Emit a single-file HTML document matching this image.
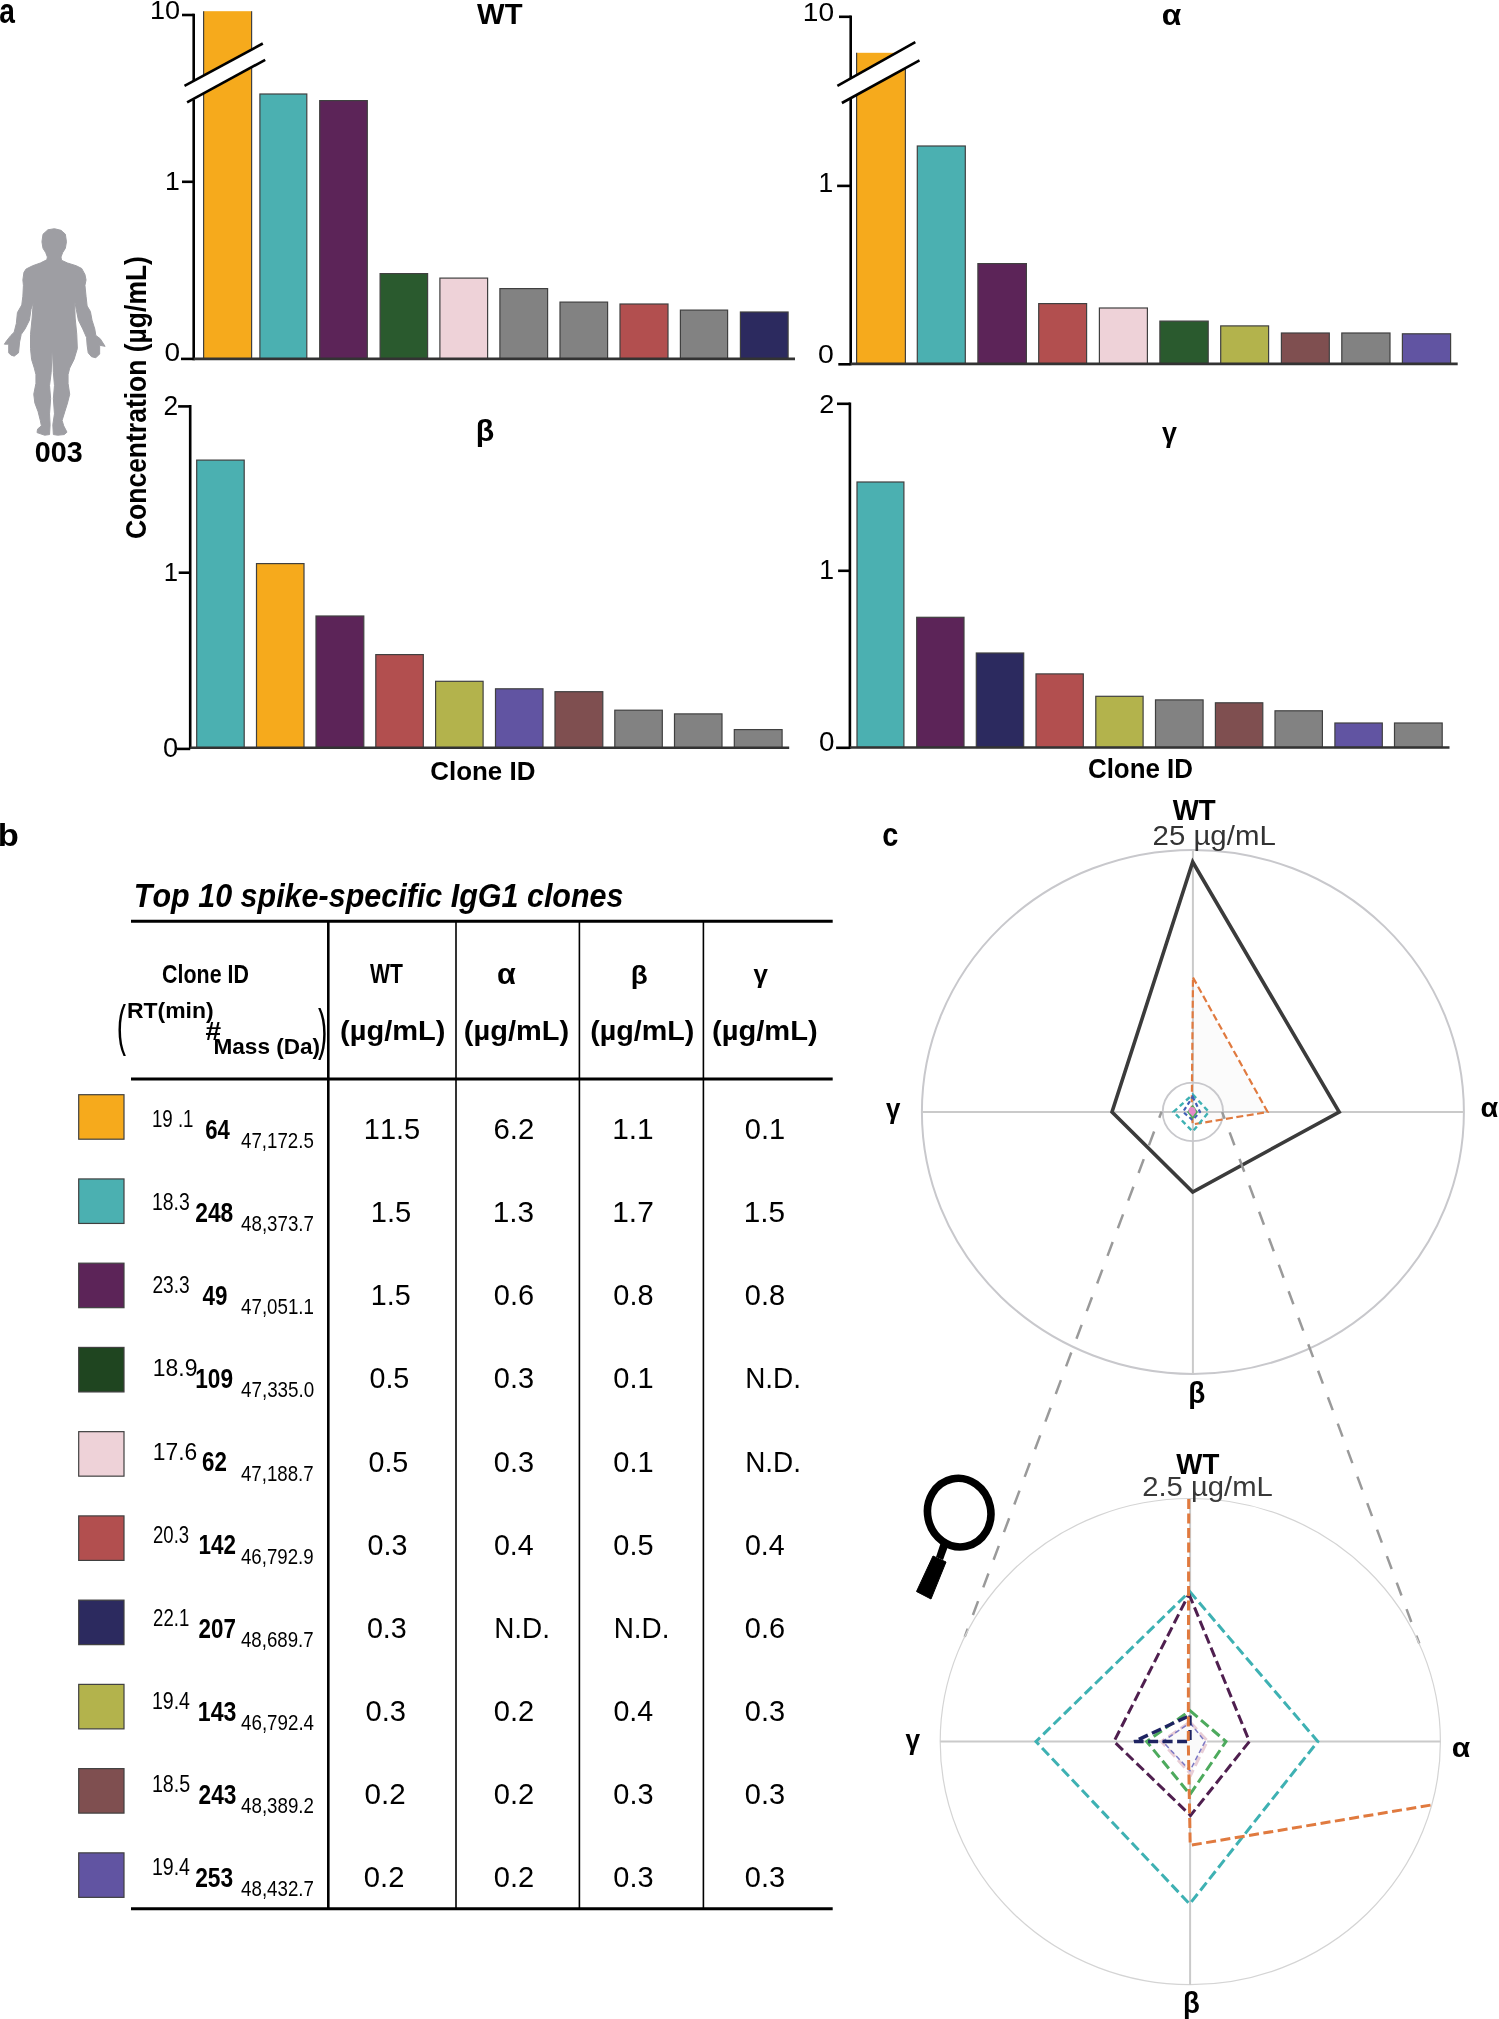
<!DOCTYPE html>
<html><head><meta charset="utf-8"><style>
html,body{margin:0;padding:0;background:#fff;}
svg{display:block;will-change:transform;}
text{font-family:"Liberation Sans",sans-serif;font-kerning:none;}
</style></head><body>
<svg width="1499" height="2019" viewBox="0 0 1499 2019">
<rect width="1499" height="2019" fill="#fff"/>
<text x="-0.82" y="22.60" font-size="34.38" textLength="15.65" lengthAdjust="spacingAndGlyphs" font-weight="bold" fill="#000">a</text>
<line x1="182.00" y1="15.00" x2="193.70" y2="15.00" stroke="#000" stroke-width="2.6"/>
<text x="149.94" y="19.00" font-size="26.50" textLength="30.12" lengthAdjust="spacingAndGlyphs" fill="#000">10</text>
<line x1="182.00" y1="181.80" x2="193.70" y2="181.80" stroke="#000" stroke-width="2.6"/>
<text x="164.97" y="189.80" font-size="26.45" textLength="14.83" lengthAdjust="spacingAndGlyphs" fill="#000">1</text>
<line x1="181.00" y1="358.90" x2="193.70" y2="358.90" stroke="#000" stroke-width="2.6"/>
<text x="164.51" y="361.30" font-size="26.50" textLength="15.59" lengthAdjust="spacingAndGlyphs" fill="#000">0</text>
<rect x="203.60" y="11.20" width="48.00" height="347.70" fill="#F6AA1C"/>
<line x1="203.60" y1="11.20" x2="203.60" y2="358.90" stroke="#404040" stroke-width="1.2"/>
<line x1="251.60" y1="11.20" x2="251.60" y2="358.90" stroke="#404040" stroke-width="1.2"/>
<rect x="259.90" y="94.00" width="46.90" height="264.90" fill="#4BB0B1" stroke="#404040" stroke-width="1.2"/>
<rect x="319.70" y="100.60" width="47.60" height="258.30" fill="#5C2458" stroke="#404040" stroke-width="1.2"/>
<rect x="380.10" y="273.60" width="47.50" height="85.30" fill="#2A5A2E" stroke="#404040" stroke-width="1.2"/>
<rect x="439.90" y="278.10" width="47.70" height="80.80" fill="#EED2D8" stroke="#404040" stroke-width="1.2"/>
<rect x="499.90" y="288.60" width="47.70" height="70.30" fill="#828282" stroke="#404040" stroke-width="1.2"/>
<rect x="560.00" y="302.10" width="47.60" height="56.80" fill="#828282" stroke="#404040" stroke-width="1.2"/>
<rect x="620.00" y="304.00" width="48.00" height="54.90" fill="#B24F4F" stroke="#404040" stroke-width="1.2"/>
<rect x="680.40" y="310.10" width="47.20" height="48.80" fill="#828282" stroke="#404040" stroke-width="1.2"/>
<rect x="740.40" y="312.00" width="47.70" height="46.90" fill="#2C2A5F" stroke="#404040" stroke-width="1.2"/>
<line x1="193.70" y1="13.70" x2="193.70" y2="80.90" stroke="#000" stroke-width="2.6"/>
<line x1="193.70" y1="99.50" x2="193.70" y2="360.20" stroke="#000" stroke-width="2.6"/>
<line x1="193.70" y1="358.90" x2="795.00" y2="358.90" stroke="#333" stroke-width="2.6"/>
<polygon points="184.5,85.9 262.8,43.5 265.2,59.8 187.1,102.4" fill="#fff"/>
<line x1="184.50" y1="85.90" x2="262.80" y2="43.50" stroke="#000" stroke-width="2.6"/>
<line x1="187.10" y1="102.40" x2="265.20" y2="59.80" stroke="#000" stroke-width="2.6"/>
<text x="477.07" y="24.20" font-size="28.92" textLength="45.44" lengthAdjust="spacingAndGlyphs" font-weight="bold" fill="#000">WT</text>
<line x1="839.00" y1="16.80" x2="850.70" y2="16.80" stroke="#000" stroke-width="2.6"/>
<text x="802.86" y="20.50" font-size="25.78" textLength="31.24" lengthAdjust="spacingAndGlyphs" fill="#000">10</text>
<line x1="837.10" y1="185.90" x2="850.70" y2="185.90" stroke="#000" stroke-width="2.6"/>
<text x="818.59" y="191.80" font-size="27.18" textLength="14.71" lengthAdjust="spacingAndGlyphs" fill="#000">1</text>
<line x1="838.30" y1="364.30" x2="850.70" y2="364.30" stroke="#000" stroke-width="2.6"/>
<text x="817.99" y="362.50" font-size="26.21" textLength="15.82" lengthAdjust="spacingAndGlyphs" fill="#000">0</text>
<rect x="856.60" y="52.80" width="48.80" height="311.10" fill="#F6AA1C"/>
<line x1="856.60" y1="52.80" x2="856.60" y2="363.90" stroke="#404040" stroke-width="1.2"/>
<line x1="905.40" y1="52.80" x2="905.40" y2="363.90" stroke="#404040" stroke-width="1.2"/>
<rect x="917.30" y="146.00" width="48.00" height="217.90" fill="#4BB0B1" stroke="#404040" stroke-width="1.2"/>
<rect x="977.90" y="263.60" width="48.50" height="100.30" fill="#5C2458" stroke="#404040" stroke-width="1.2"/>
<rect x="1038.70" y="303.60" width="47.90" height="60.30" fill="#B24F4F" stroke="#404040" stroke-width="1.2"/>
<rect x="1099.40" y="308.00" width="48.00" height="55.90" fill="#EED2D8" stroke="#404040" stroke-width="1.2"/>
<rect x="1159.90" y="321.10" width="48.30" height="42.80" fill="#2A5A2E" stroke="#404040" stroke-width="1.2"/>
<rect x="1220.70" y="325.90" width="47.90" height="38.00" fill="#B3B34C" stroke="#404040" stroke-width="1.2"/>
<rect x="1281.40" y="333.00" width="47.90" height="30.90" fill="#7F4F50" stroke="#404040" stroke-width="1.2"/>
<rect x="1341.80" y="333.00" width="48.20" height="30.90" fill="#828282" stroke="#404040" stroke-width="1.2"/>
<rect x="1402.40" y="333.80" width="48.20" height="30.10" fill="#6154A2" stroke="#404040" stroke-width="1.2"/>
<line x1="850.70" y1="15.50" x2="850.70" y2="78.40" stroke="#000" stroke-width="2.6"/>
<line x1="850.70" y1="98.20" x2="850.70" y2="365.20" stroke="#000" stroke-width="2.6"/>
<line x1="850.70" y1="363.90" x2="1457.70" y2="363.90" stroke="#333" stroke-width="2.6"/>
<polygon points="837.4,85.9 915.3,42.2 919.5,60.3 841.9,103" fill="#fff"/>
<line x1="837.40" y1="85.90" x2="915.30" y2="42.20" stroke="#000" stroke-width="2.6"/>
<line x1="841.90" y1="103.00" x2="919.50" y2="60.30" stroke="#000" stroke-width="2.6"/>
<text x="1161.76" y="24.80" font-size="28.81" textLength="19.57" lengthAdjust="spacingAndGlyphs" font-weight="bold" fill="#000">α</text>
<line x1="178.10" y1="406.40" x2="190.20" y2="406.40" stroke="#000" stroke-width="2.6"/>
<text x="163.58" y="414.90" font-size="26.78" textLength="14.65" lengthAdjust="spacingAndGlyphs" fill="#000">2</text>
<line x1="178.70" y1="572.70" x2="190.20" y2="572.70" stroke="#000" stroke-width="2.6"/>
<text x="163.84" y="581.10" font-size="26.45" textLength="14.32" lengthAdjust="spacingAndGlyphs" fill="#000">1</text>
<line x1="176.90" y1="748.90" x2="190.20" y2="748.90" stroke="#000" stroke-width="2.6"/>
<text x="163.14" y="757.00" font-size="26.78" textLength="15.12" lengthAdjust="spacingAndGlyphs" fill="#000">0</text>
<rect x="196.70" y="460.10" width="47.50" height="287.70" fill="#4BB0B1" stroke="#404040" stroke-width="1.2"/>
<rect x="256.50" y="563.60" width="47.50" height="184.20" fill="#F6AA1C" stroke="#404040" stroke-width="1.2"/>
<rect x="316.00" y="616.00" width="47.80" height="131.80" fill="#5C2458" stroke="#404040" stroke-width="1.2"/>
<rect x="375.80" y="654.60" width="47.50" height="93.20" fill="#B24F4F" stroke="#404040" stroke-width="1.2"/>
<rect x="435.60" y="681.30" width="47.50" height="66.50" fill="#B3B34C" stroke="#404040" stroke-width="1.2"/>
<rect x="495.50" y="688.80" width="47.50" height="59.00" fill="#6154A2" stroke="#404040" stroke-width="1.2"/>
<rect x="555.00" y="691.70" width="47.80" height="56.10" fill="#7F4F50" stroke="#404040" stroke-width="1.2"/>
<rect x="614.80" y="710.20" width="47.50" height="37.60" fill="#828282" stroke="#404040" stroke-width="1.2"/>
<rect x="674.50" y="713.90" width="47.50" height="33.90" fill="#828282" stroke="#404040" stroke-width="1.2"/>
<rect x="734.30" y="729.60" width="47.80" height="18.20" fill="#828282" stroke="#404040" stroke-width="1.2"/>
<line x1="190.20" y1="405.10" x2="190.20" y2="749.10" stroke="#000" stroke-width="2.6"/>
<line x1="190.20" y1="747.80" x2="789.20" y2="747.80" stroke="#333" stroke-width="2.6"/>
<text x="475.80" y="441.30" font-size="29.20" textLength="18.53" lengthAdjust="spacingAndGlyphs" font-weight="bold" fill="#000">β</text>
<text x="430.24" y="780.30" font-size="26.50" textLength="105.15" lengthAdjust="spacingAndGlyphs" font-weight="bold" fill="#000">Clone ID</text>
<line x1="837.00" y1="403.80" x2="849.90" y2="403.80" stroke="#000" stroke-width="2.6"/>
<text x="819.34" y="412.50" font-size="26.50" textLength="15.02" lengthAdjust="spacingAndGlyphs" fill="#000">2</text>
<line x1="838.10" y1="570.80" x2="849.90" y2="570.80" stroke="#000" stroke-width="2.6"/>
<text x="819.27" y="578.70" font-size="27.04" textLength="14.83" lengthAdjust="spacingAndGlyphs" fill="#000">1</text>
<line x1="836.10" y1="747.80" x2="849.90" y2="747.80" stroke="#000" stroke-width="2.6"/>
<text x="819.01" y="751.40" font-size="27.21" textLength="15.47" lengthAdjust="spacingAndGlyphs" fill="#000">0</text>
<rect x="857.00" y="482.00" width="46.90" height="265.50" fill="#4BB0B1" stroke="#404040" stroke-width="1.2"/>
<rect x="916.70" y="617.30" width="47.30" height="130.20" fill="#5C2458" stroke="#404040" stroke-width="1.2"/>
<rect x="976.30" y="653.00" width="47.40" height="94.50" fill="#2C2A5F" stroke="#404040" stroke-width="1.2"/>
<rect x="1036.00" y="673.90" width="47.30" height="73.60" fill="#B24F4F" stroke="#404040" stroke-width="1.2"/>
<rect x="1095.80" y="696.30" width="47.30" height="51.20" fill="#B3B34C" stroke="#404040" stroke-width="1.2"/>
<rect x="1155.50" y="699.90" width="47.60" height="47.60" fill="#828282" stroke="#404040" stroke-width="1.2"/>
<rect x="1215.40" y="702.80" width="47.40" height="44.70" fill="#7F4F50" stroke="#404040" stroke-width="1.2"/>
<rect x="1275.00" y="710.80" width="47.40" height="36.70" fill="#828282" stroke="#404040" stroke-width="1.2"/>
<rect x="1334.90" y="723.00" width="47.40" height="24.50" fill="#6154A2" stroke="#404040" stroke-width="1.2"/>
<rect x="1394.50" y="723.00" width="47.70" height="24.50" fill="#828282" stroke="#404040" stroke-width="1.2"/>
<line x1="849.90" y1="402.50" x2="849.90" y2="748.80" stroke="#000" stroke-width="2.6"/>
<line x1="849.90" y1="747.50" x2="1449.50" y2="747.50" stroke="#333" stroke-width="2.6"/>
<text x="1161.90" y="441.70" font-size="28.00" textLength="14.91" lengthAdjust="spacingAndGlyphs" font-weight="bold" fill="#000">γ</text>
<text x="1087.94" y="777.90" font-size="27.46" textLength="105.05" lengthAdjust="spacingAndGlyphs" font-weight="bold" fill="#000">Clone ID</text>
<text x="-1.09" y="0.00" font-size="29.00" textLength="283.01" lengthAdjust="spacingAndGlyphs" font-weight="bold" fill="#000" transform="translate(146,538) rotate(-90)">Concentration (µg/mL)</text>
<polygon points="54.46,228.71 60.99,230.35 65.35,234.16 66.44,241.78 65.35,248.32 62.62,252.67 60.99,257.03 61.53,260.30 67.52,263.02 76.24,265.74 81.68,268.47 84.95,274.46 86.04,279.90 84.95,285.35 86.04,296.24 87.13,306.04 90.40,311.49 92.03,320.20 94.75,328.91 95.84,335.45 100.20,338.71 105.10,346.34 99.65,345.25 99.65,353.96 95.84,357.77 91.49,356.68 88.22,352.87 87.13,345.25 86.58,337.62 82.77,328.91 78.42,320.20 76.24,309.31 74.60,300.59 75.15,318.02 76.78,334.36 77.33,348.52 74.06,359.41 69.70,368.12 68.07,374.65 68.07,383.37 69.70,394.26 67.52,402.97 64.80,411.68 62.08,420.40 63.71,425.84 66.98,432.16 64.26,434.55 57.72,435.21 53.37,434.55 52.82,424.75 54.46,413.86 53.37,398.61 54.46,385.54 53.37,372.48 52.28,345.25 51.19,372.48 49.55,385.54 50.64,398.61 49.55,413.86 50.10,424.75 49.55,434.55 44.65,435.21 37.03,432.59 37.57,429.11 41.39,425.84 40.30,420.40 38.12,411.68 34.85,402.97 33.76,394.26 35.94,383.37 35.94,374.65 34.31,368.12 31.58,359.41 30.50,348.52 30.50,334.36 32.13,318.02 33.22,302.77 31.04,309.31 29.41,320.20 25.05,328.91 21.24,334.36 19.60,341.98 18.51,352.87 14.16,356.14 10.89,355.05 8.71,352.87 8.71,344.16 4.36,344.16 6.53,340.89 10.89,335.45 14.16,332.18 16.34,323.47 17.43,312.57 21.78,304.95 22.87,296.24 23.42,285.35 22.87,279.90 23.96,272.28 26.14,269.01 32.67,265.74 40.30,263.02 46.83,259.75 47.38,257.03 45.74,252.67 43.02,248.32 41.93,241.78 43.02,234.16 47.92,229.80" fill="#9E9EA3" stroke="#9E9EA3" stroke-width="1" stroke-linejoin="round"/>
<text x="34.87" y="461.60" font-size="29.22" textLength="47.87" lengthAdjust="spacingAndGlyphs" font-weight="bold" fill="#000">003</text>
<text x="-2.28" y="845.60" font-size="30.64" textLength="21.09" lengthAdjust="spacingAndGlyphs" font-weight="bold" fill="#000">b</text>
<text x="133.84" y="907.20" font-size="32.70" textLength="489.70" lengthAdjust="spacingAndGlyphs" font-weight="bold" font-style="italic" fill="#000">Top 10 spike-specific IgG1 clones</text>
<line x1="131.00" y1="921.30" x2="832.70" y2="921.30" stroke="#000" stroke-width="3"/>
<line x1="131.00" y1="1079.00" x2="832.70" y2="1079.00" stroke="#000" stroke-width="3"/>
<line x1="131.00" y1="1908.70" x2="832.70" y2="1908.70" stroke="#000" stroke-width="3"/>
<line x1="328.30" y1="921.30" x2="328.30" y2="1908.70" stroke="#000" stroke-width="2.6"/>
<line x1="456.00" y1="921.30" x2="456.00" y2="1908.70" stroke="#000" stroke-width="1.6"/>
<line x1="579.40" y1="921.30" x2="579.40" y2="1908.70" stroke="#000" stroke-width="1.6"/>
<line x1="703.40" y1="921.30" x2="703.40" y2="1908.70" stroke="#000" stroke-width="1.6"/>
<text x="162.12" y="983.10" font-size="25.67" textLength="86.78" lengthAdjust="spacingAndGlyphs" font-weight="bold" fill="#000">Clone ID</text>
<text x="369.98" y="983.00" font-size="26.89" textLength="32.85" lengthAdjust="spacingAndGlyphs" font-weight="bold" fill="#000">WT</text>
<text x="497.00" y="984.00" font-size="29.74" textLength="18.81" lengthAdjust="spacingAndGlyphs" font-weight="bold" fill="#000">α</text>
<text x="630.77" y="983.60" font-size="25.20" textLength="16.96" lengthAdjust="spacingAndGlyphs" font-weight="bold" fill="#000">β</text>
<text x="753.40" y="983.30" font-size="26.50" textLength="14.40" lengthAdjust="spacingAndGlyphs" font-weight="bold" fill="#000">γ</text>
<text x="340.05" y="1040.30" font-size="27.50" textLength="105.39" lengthAdjust="spacingAndGlyphs" font-weight="bold" fill="#000">(µg/mL)</text>
<text x="463.86" y="1040.30" font-size="27.50" textLength="105.19" lengthAdjust="spacingAndGlyphs" font-weight="bold" fill="#000">(µg/mL)</text>
<text x="590.17" y="1040.30" font-size="27.50" textLength="104.26" lengthAdjust="spacingAndGlyphs" font-weight="bold" fill="#000">(µg/mL)</text>
<text x="712.05" y="1040.30" font-size="27.50" textLength="105.60" lengthAdjust="spacingAndGlyphs" font-weight="bold" fill="#000">(µg/mL)</text>
<text x="116.87" y="1043.50" font-size="56.00" textLength="9.29" lengthAdjust="spacingAndGlyphs" fill="#000">(</text>
<text x="318.03" y="1048.00" font-size="56.00" textLength="9.42" lengthAdjust="spacingAndGlyphs" fill="#000">)</text>
<text x="126.96" y="1017.50" font-size="22.00" textLength="86.68" lengthAdjust="spacingAndGlyphs" font-weight="bold" fill="#000">RT(min)</text>
<text x="205.52" y="1040.00" font-size="26.43" textLength="15.63" lengthAdjust="spacingAndGlyphs" font-weight="bold" fill="#000">#</text>
<text x="213.49" y="1054.20" font-size="22.80" textLength="106.63" lengthAdjust="spacingAndGlyphs" font-weight="bold" fill="#000">Mass (Da)</text>
<rect x="78.70" y="1094.70" width="45.30" height="44.50" fill="#F6AA1C" stroke="#404040" stroke-width="1.2"/>
<text x="151.98" y="1127.10" font-size="23.34" textLength="41.53" lengthAdjust="spacingAndGlyphs" fill="#000">19 .1</text>
<text x="205.19" y="1138.80" font-size="27.93" textLength="24.63" lengthAdjust="spacingAndGlyphs" font-weight="bold" fill="#000">64</text>
<text x="241.07" y="1148.10" font-size="22.20" textLength="72.71" lengthAdjust="spacingAndGlyphs" fill="#000">47,172.5</text>
<text x="363.79" y="1139.10" font-size="29.36" textLength="56.43" lengthAdjust="spacingAndGlyphs" fill="#000">11.5</text>
<text x="493.51" y="1139.10" font-size="28.93" textLength="40.76" lengthAdjust="spacingAndGlyphs" fill="#000">6.2</text>
<text x="612.22" y="1139.10" font-size="29.36" textLength="41.53" lengthAdjust="spacingAndGlyphs" fill="#000">1.1</text>
<text x="744.87" y="1139.10" font-size="28.93" textLength="40.35" lengthAdjust="spacingAndGlyphs" fill="#000">0.1</text>
<rect x="78.70" y="1178.94" width="45.30" height="44.50" fill="#4BB0B1" stroke="#404040" stroke-width="1.2"/>
<text x="151.92" y="1210.23" font-size="23.34" textLength="37.84" lengthAdjust="spacingAndGlyphs" fill="#000">18.3</text>
<text x="195.21" y="1221.93" font-size="27.93" textLength="38.09" lengthAdjust="spacingAndGlyphs" font-weight="bold" fill="#000">248</text>
<text x="241.07" y="1231.23" font-size="22.20" textLength="72.87" lengthAdjust="spacingAndGlyphs" fill="#000">48,373.7</text>
<text x="370.78" y="1222.23" font-size="29.36" textLength="40.44" lengthAdjust="spacingAndGlyphs" fill="#000">1.5</text>
<text x="492.73" y="1222.23" font-size="28.93" textLength="41.38" lengthAdjust="spacingAndGlyphs" fill="#000">1.3</text>
<text x="612.22" y="1222.23" font-size="29.36" textLength="41.58" lengthAdjust="spacingAndGlyphs" fill="#000">1.7</text>
<text x="743.74" y="1222.23" font-size="29.36" textLength="41.31" lengthAdjust="spacingAndGlyphs" fill="#000">1.5</text>
<rect x="78.70" y="1263.18" width="45.30" height="44.50" fill="#5C2458" stroke="#404040" stroke-width="1.2"/>
<text x="152.44" y="1293.36" font-size="23.34" textLength="37.31" lengthAdjust="spacingAndGlyphs" fill="#000">23.3</text>
<text x="202.46" y="1305.06" font-size="27.93" textLength="24.87" lengthAdjust="spacingAndGlyphs" font-weight="bold" fill="#000">49</text>
<text x="241.07" y="1314.36" font-size="22.20" textLength="72.84" lengthAdjust="spacingAndGlyphs" fill="#000">47,051.1</text>
<text x="370.81" y="1305.36" font-size="29.36" textLength="39.89" lengthAdjust="spacingAndGlyphs" fill="#000">1.5</text>
<text x="493.87" y="1305.36" font-size="28.93" textLength="40.20" lengthAdjust="spacingAndGlyphs" fill="#000">0.6</text>
<text x="613.37" y="1305.36" font-size="28.93" textLength="40.19" lengthAdjust="spacingAndGlyphs" fill="#000">0.8</text>
<text x="744.87" y="1305.36" font-size="28.93" textLength="40.19" lengthAdjust="spacingAndGlyphs" fill="#000">0.8</text>
<rect x="78.70" y="1347.42" width="45.30" height="44.50" fill="#1F4520" stroke="#404040" stroke-width="1.2"/>
<text x="152.86" y="1376.49" font-size="23.34" textLength="44.53" lengthAdjust="spacingAndGlyphs" fill="#000">18.9</text>
<text x="195.27" y="1388.19" font-size="27.93" textLength="37.77" lengthAdjust="spacingAndGlyphs" font-weight="bold" fill="#000">109</text>
<text x="240.97" y="1397.49" font-size="22.20" textLength="73.27" lengthAdjust="spacingAndGlyphs" fill="#000">47,335.0</text>
<text x="369.48" y="1388.49" font-size="28.93" textLength="39.82" lengthAdjust="spacingAndGlyphs" fill="#000">0.5</text>
<text x="493.87" y="1388.49" font-size="28.93" textLength="40.20" lengthAdjust="spacingAndGlyphs" fill="#000">0.3</text>
<text x="613.37" y="1388.49" font-size="28.93" textLength="40.35" lengthAdjust="spacingAndGlyphs" fill="#000">0.1</text>
<text x="745.21" y="1388.49" font-size="28.92" textLength="55.84" lengthAdjust="spacingAndGlyphs" fill="#000">N.D.</text>
<rect x="78.70" y="1431.66" width="45.30" height="44.50" fill="#EED2D8" stroke="#404040" stroke-width="1.2"/>
<text x="152.86" y="1459.62" font-size="23.34" textLength="44.44" lengthAdjust="spacingAndGlyphs" fill="#000">17.6</text>
<text x="202.08" y="1471.32" font-size="27.93" textLength="24.81" lengthAdjust="spacingAndGlyphs" font-weight="bold" fill="#000">62</text>
<text x="240.97" y="1480.62" font-size="22.20" textLength="72.67" lengthAdjust="spacingAndGlyphs" fill="#000">47,188.7</text>
<text x="368.48" y="1471.62" font-size="28.93" textLength="39.82" lengthAdjust="spacingAndGlyphs" fill="#000">0.5</text>
<text x="493.87" y="1471.62" font-size="28.93" textLength="40.20" lengthAdjust="spacingAndGlyphs" fill="#000">0.3</text>
<text x="613.37" y="1471.62" font-size="28.93" textLength="40.35" lengthAdjust="spacingAndGlyphs" fill="#000">0.1</text>
<text x="745.21" y="1471.62" font-size="28.92" textLength="55.84" lengthAdjust="spacingAndGlyphs" fill="#000">N.D.</text>
<rect x="78.70" y="1515.90" width="45.30" height="44.50" fill="#B24F4F" stroke="#404040" stroke-width="1.2"/>
<text x="153.07" y="1542.75" font-size="23.34" textLength="36.05" lengthAdjust="spacingAndGlyphs" fill="#000">20.3</text>
<text x="198.49" y="1554.45" font-size="27.93" textLength="37.41" lengthAdjust="spacingAndGlyphs" font-weight="bold" fill="#000">142</text>
<text x="240.97" y="1563.75" font-size="22.20" textLength="72.61" lengthAdjust="spacingAndGlyphs" fill="#000">46,792.9</text>
<text x="367.48" y="1554.75" font-size="28.93" textLength="39.88" lengthAdjust="spacingAndGlyphs" fill="#000">0.3</text>
<text x="493.88" y="1554.75" font-size="28.93" textLength="39.75" lengthAdjust="spacingAndGlyphs" fill="#000">0.4</text>
<text x="613.37" y="1554.75" font-size="28.93" textLength="40.14" lengthAdjust="spacingAndGlyphs" fill="#000">0.5</text>
<text x="744.88" y="1554.75" font-size="28.93" textLength="39.75" lengthAdjust="spacingAndGlyphs" fill="#000">0.4</text>
<rect x="78.70" y="1600.14" width="45.30" height="44.50" fill="#2C2A5F" stroke="#404040" stroke-width="1.2"/>
<text x="153.07" y="1625.88" font-size="23.34" textLength="36.14" lengthAdjust="spacingAndGlyphs" fill="#000">22.1</text>
<text x="198.62" y="1637.58" font-size="27.93" textLength="37.36" lengthAdjust="spacingAndGlyphs" font-weight="bold" fill="#000">207</text>
<text x="240.97" y="1646.88" font-size="22.20" textLength="72.67" lengthAdjust="spacingAndGlyphs" fill="#000">48,689.7</text>
<text x="366.88" y="1637.88" font-size="28.93" textLength="39.88" lengthAdjust="spacingAndGlyphs" fill="#000">0.3</text>
<text x="494.21" y="1637.88" font-size="28.92" textLength="55.84" lengthAdjust="spacingAndGlyphs" fill="#000">N.D.</text>
<text x="613.71" y="1637.88" font-size="28.92" textLength="55.84" lengthAdjust="spacingAndGlyphs" fill="#000">N.D.</text>
<text x="744.87" y="1637.88" font-size="28.93" textLength="40.20" lengthAdjust="spacingAndGlyphs" fill="#000">0.6</text>
<rect x="78.70" y="1684.38" width="45.30" height="44.50" fill="#B3B34C" stroke="#404040" stroke-width="1.2"/>
<text x="151.91" y="1709.01" font-size="23.34" textLength="38.06" lengthAdjust="spacingAndGlyphs" fill="#000">19.4</text>
<text x="197.84" y="1720.71" font-size="27.93" textLength="38.59" lengthAdjust="spacingAndGlyphs" font-weight="bold" fill="#000">143</text>
<text x="241.07" y="1730.01" font-size="22.20" textLength="72.98" lengthAdjust="spacingAndGlyphs" fill="#000">46,792.4</text>
<text x="365.56" y="1721.01" font-size="28.93" textLength="40.52" lengthAdjust="spacingAndGlyphs" fill="#000">0.3</text>
<text x="493.86" y="1721.01" font-size="28.93" textLength="40.40" lengthAdjust="spacingAndGlyphs" fill="#000">0.2</text>
<text x="613.38" y="1721.01" font-size="28.93" textLength="39.75" lengthAdjust="spacingAndGlyphs" fill="#000">0.4</text>
<text x="744.87" y="1721.01" font-size="28.93" textLength="40.20" lengthAdjust="spacingAndGlyphs" fill="#000">0.3</text>
<rect x="78.70" y="1768.62" width="45.30" height="44.50" fill="#7F4F50" stroke="#404040" stroke-width="1.2"/>
<text x="151.90" y="1792.14" font-size="23.34" textLength="38.33" lengthAdjust="spacingAndGlyphs" fill="#000">18.5</text>
<text x="198.51" y="1803.84" font-size="27.93" textLength="37.91" lengthAdjust="spacingAndGlyphs" font-weight="bold" fill="#000">243</text>
<text x="241.07" y="1813.14" font-size="22.20" textLength="72.87" lengthAdjust="spacingAndGlyphs" fill="#000">48,389.2</text>
<text x="364.54" y="1804.14" font-size="28.93" textLength="41.14" lengthAdjust="spacingAndGlyphs" fill="#000">0.2</text>
<text x="493.86" y="1804.14" font-size="28.93" textLength="40.40" lengthAdjust="spacingAndGlyphs" fill="#000">0.2</text>
<text x="613.37" y="1804.14" font-size="28.93" textLength="40.20" lengthAdjust="spacingAndGlyphs" fill="#000">0.3</text>
<text x="744.87" y="1804.14" font-size="28.93" textLength="40.20" lengthAdjust="spacingAndGlyphs" fill="#000">0.3</text>
<rect x="78.70" y="1852.86" width="45.30" height="44.50" fill="#6154A2" stroke="#404040" stroke-width="1.2"/>
<text x="151.91" y="1875.27" font-size="23.34" textLength="38.06" lengthAdjust="spacingAndGlyphs" fill="#000">19.4</text>
<text x="195.21" y="1886.97" font-size="27.93" textLength="38.01" lengthAdjust="spacingAndGlyphs" font-weight="bold" fill="#000">253</text>
<text x="241.07" y="1896.27" font-size="22.20" textLength="72.87" lengthAdjust="spacingAndGlyphs" fill="#000">48,432.7</text>
<text x="363.86" y="1887.27" font-size="28.93" textLength="40.61" lengthAdjust="spacingAndGlyphs" fill="#000">0.2</text>
<text x="493.86" y="1887.27" font-size="28.93" textLength="40.40" lengthAdjust="spacingAndGlyphs" fill="#000">0.2</text>
<text x="613.37" y="1887.27" font-size="28.93" textLength="40.20" lengthAdjust="spacingAndGlyphs" fill="#000">0.3</text>
<text x="744.87" y="1887.27" font-size="28.93" textLength="40.20" lengthAdjust="spacingAndGlyphs" fill="#000">0.3</text>
<text x="882.27" y="846.00" font-size="33.08" textLength="16.08" lengthAdjust="spacingAndGlyphs" font-weight="bold" fill="#000">c</text>
<polygon points="1193,977.5 1267.6,1112 1192.7,1124.4 1191.7,1112" fill="#FBFBFB"/>
<ellipse cx="1192.9" cy="1111.9" rx="271" ry="262" fill="none" stroke="#C8C8CC" stroke-width="2"/>
<line x1="921.90" y1="1111.90" x2="1463.90" y2="1111.90" stroke="#CACACA" stroke-width="2"/>
<line x1="1192.90" y1="849.90" x2="1192.90" y2="1373.90" stroke="#CACACA" stroke-width="2"/>
<ellipse cx="1192.9" cy="1111.9" rx="30.2" ry="29.2" fill="none" stroke="#C8C8CC" stroke-width="1.8"/>
<polygon points="1193,977.5 1267.6,1112 1192.7,1124.4 1191.7,1112" fill="none" stroke="#E07A3F" stroke-width="2.2" stroke-dasharray="7 3.5"/>
<polygon points="1192.7,862 1339.2,1112 1192.7,1192 1112,1112" fill="none" stroke="#3B3B3B" stroke-width="3.6" stroke-linejoin="miter"/>
<polygon points="1192.7,1094.5 1208.8,1111.9 1192.7,1131.5 1173.5,1111.9" fill="none" stroke="#3EB1B3" stroke-width="2.4" stroke-dasharray="5 3.5"/>
<polygon points="1192.7,1096.8 1200,1111.9 1192.7,1120 1183,1111.9" fill="none" stroke="#3F5FB5" stroke-width="2.2" stroke-dasharray="4 3"/>
<polygon points="1192.7,1106 1197,1111.9 1192.7,1118 1188,1111.9" fill="#E48AC8" stroke="#4CAA5C" stroke-width="1.5"/>
<circle cx="1192" cy="1110.5" r="3.5" fill="#E48AC8"/>
<line x1="1161.60" y1="1111.60" x2="964.70" y2="1636.90" stroke="#9A9A9A" stroke-width="2.5" stroke-dasharray="14.8 14.7" stroke-dashoffset="8.2"/>
<line x1="1222.10" y1="1112.00" x2="1419.30" y2="1643.50" stroke="#9A9A9A" stroke-width="2.5" stroke-dasharray="13.8 14.45" stroke-dashoffset="6.55"/>
<text x="1172.67" y="819.80" font-size="28.78" textLength="43.02" lengthAdjust="spacingAndGlyphs" font-weight="bold" fill="#000">WT</text>
<text x="1152.52" y="845.10" font-size="27.60" textLength="123.26" lengthAdjust="spacingAndGlyphs" fill="#333">25 µg/mL</text>
<text x="885.90" y="1118.40" font-size="27.40" textLength="14.40" lengthAdjust="spacingAndGlyphs" font-weight="bold" fill="#000">γ</text>
<text x="1480.57" y="1116.60" font-size="27.88" textLength="17.72" lengthAdjust="spacingAndGlyphs" font-weight="bold" fill="#000">α</text>
<text x="1188.16" y="1403.00" font-size="29.00" textLength="17.08" lengthAdjust="spacingAndGlyphs" font-weight="bold" fill="#000">β</text>
<ellipse cx="1190.3" cy="1741.6" rx="250.1" ry="243.1" fill="none" stroke="#D4D4D4" stroke-width="1.2"/>
<line x1="940.20" y1="1741.60" x2="1440.40" y2="1741.60" stroke="#CACACA" stroke-width="2"/>
<line x1="1190.10" y1="1498.50" x2="1190.10" y2="1984.70" stroke="#CACACA" stroke-width="2"/>
<polygon points="1189.7,1591.5 1317.8,1741.5 1189.7,1904.0 1036.0,1741.5" fill="none" stroke="#3EB1B3" stroke-width="3" stroke-dasharray="10 4.5" stroke-linejoin="miter"/>
<polygon points="1189.0,1594.0 1249.4,1741.5 1190.5,1815.5 1114.0,1741.5" fill="none" stroke="#4F1F4F" stroke-width="3" stroke-dasharray="10 4.5" stroke-linejoin="miter"/>
<polygon points="1190.0,1710.6 1226.0,1741.5 1190.0,1794.5 1146.7,1741.5" fill="none" stroke="#4DAA5D" stroke-width="3" stroke-dasharray="10 4.5" stroke-linejoin="miter"/>
<polygon points="1190.0,1722.0 1207.4,1741.0 1191.0,1774.5 1161.4,1741.5" fill="#FAFAFA" stroke="#E8CDD6" stroke-width="3" stroke-dasharray="10 4.5" stroke-linejoin="miter"/>
<polygon points="1190.0,1722.7 1205.0,1741.5 1190.0,1770.7 1162.7,1741.5" fill="none" stroke="#7B78C4" stroke-width="1.5" stroke-dasharray="5 3" stroke-linejoin="miter"/>
<polygon points="1190.0,1715.4 1190.0,1741.5 1134.2,1741.5" fill="none" stroke="#1F2462" stroke-width="3.4" stroke-dasharray="10 4.5" stroke-linejoin="miter"/>
<polyline points="1188.7,1499 1188.3,1741.5 1190.2,1845.3 1431.8,1804.9" fill="none" stroke="#E07A3F" stroke-width="3" stroke-dasharray="10 4.5"/>
<ellipse cx="959.2" cy="1512.6" rx="31.6" ry="34.4" transform="rotate(-12 959.2 1512.6)" fill="none" stroke="#000" stroke-width="7.6"/>
<polygon points="941,1542 948.5,1545 943,1560 936,1557" fill="#000"/>
<polygon points="933,1556 946,1562 931,1599 916.5,1591.5" fill="#000" stroke="#000" stroke-width="1" stroke-linejoin="round"/>
<text x="1176.37" y="1473.60" font-size="29.51" textLength="43.02" lengthAdjust="spacingAndGlyphs" font-weight="bold" fill="#000">WT</text>
<text x="1142.23" y="1496.00" font-size="27.19" textLength="130.64" lengthAdjust="spacingAndGlyphs" fill="#383838">2.5 µg/mL</text>
<text x="905.50" y="1749.30" font-size="28.00" textLength="14.61" lengthAdjust="spacingAndGlyphs" font-weight="bold" fill="#000">γ</text>
<text x="1451.83" y="1756.90" font-size="28.43" textLength="18.48" lengthAdjust="spacingAndGlyphs" font-weight="bold" fill="#000">α</text>
<text x="1183.09" y="2012.60" font-size="29.20" textLength="16.84" lengthAdjust="spacingAndGlyphs" font-weight="bold" fill="#000">β</text>
</svg></body></html>
